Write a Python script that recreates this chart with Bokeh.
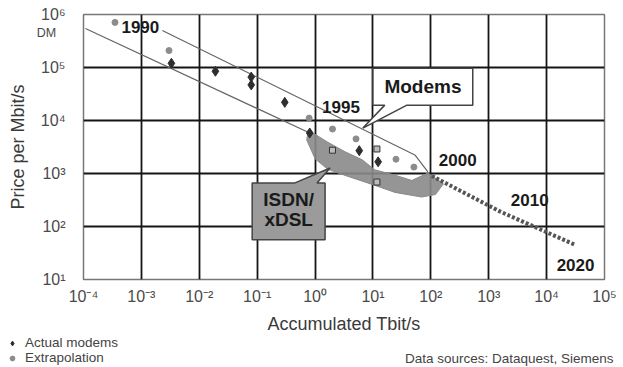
from bokeh.plotting import figure
from bokeh.layouts import column
from bokeh.models import FixedTicker, Label, Range1d, Legend, LegendItem
from bokeh.core.properties import value
from bokeh.embed import file_html
from bokeh.resources import INLINE

FONT = "Liberation Sans"

# ---------------- data ----------------
x_ticks = [1e-4, 1e-3, 1e-2, 1e-1, 1e0, 1e1, 1e2, 1e3, 1e4, 1e5]
x_tick_labels = ["10⁻⁴", "10⁻³", "10⁻²", "10⁻¹", "10⁰", "10¹", "10²", "10³", "10⁴", "10⁵"]
y_ticks = [1e1, 1e2, 1e3, 1e4, 1e5, 1e6]
y_tick_labels = ["10¹", "10²", "10³", "10⁴", "10⁵", "10⁶"]

# actual modems (Tbit/s accumulated, DM per Mbit/s)
modem_tbit = [0.0033, 0.019, 0.079, 0.079, 0.30, 0.81, 5.8, 12.3]
modem_price = [120000, 85000, 66000, 47000, 22000, 5800, 2700, 1660]

# extrapolation points
extra_tbit = [0.00035, 0.0030, 0.79, 2.0, 5.1, 25, 51]
extra_price = [710000, 209000, 11100, 6900, 4500, 1860, 1320]

# ISDN / xDSL points
isdn_tbit = [2.0, 11.7, 11.7]
isdn_price = [2750, 2900, 690]

# extrapolated trend 2000 -> 2020
trend_tbit = [104, 1550, 30400]
trend_price = [900, 193, 45.5]

# band boundaries
band_low_tbit = [0.000108, 0.81]
band_low_price = [546000, 5800]
band_up_tbit = [0.0023, 53, 89]
band_up_price = [500000, 2240, 1070]

# ISDN/xDSL area
area_tbit = [0.76, 1.66, 3.3, 6.5, 10.7, 24, 47, 89, 132,
             165, 120, 69, 24, 10.7, 3.3, 1.66, 1.0, 0.72]
area_price = [6600, 3890, 2570, 1820, 1175, 930, 740, 1020, 760,
              640, 400, 360, 440, 600, 920, 1200, 1900, 4270]

# year labels
years = ["1990", "1995", "2000", "2010", "2020"]
year_tbit = [0.00096, 2.8, 292, 5100, 31600]
year_price = [570000, 17900, 1800, 319, 19]

# callouts
modems_call_tbit = [10, 530, 530, 38.6, 6.7, 16, 10]
modems_call_price = [96600, 96600, 19500, 19500, 7200, 19500, 19500]
modems_text_pos = (73, 43400)

isdn_call_tbit = [0.082, 0.45, 1.82, 1.08, 1.49, 1.49, 0.082]
isdn_call_price = [665, 665, 1270, 665, 665, 56.5, 56.5]
isdn_text_tbit = [0.35, 0.35]
isdn_text_price = [319, 134]
isdn_text = ["ISDN/", "xDSL"]

legend_labels = ["Actual modems", "Extrapolation"]
source_note = "Data sources: Dataquest, Siemens"

# ---------------- main figure ----------------
p = figure(width=623, height=336, x_axis_type="log", y_axis_type="log",
           x_range=Range1d(1e-4, 1e5), y_range=Range1d(10, 1e6),
           output_backend="svg", toolbar_location=None,
           min_border_left=83, min_border_right=18, min_border_top=14,
           min_border_bottom=56)
p.frame_align = False
p.background_fill_color = "white"
p.border_fill_color = "white"
p.outline_line_color = "#777777"
p.outline_line_width = 1.5

xt = FixedTicker(ticks=x_ticks, minor_ticks=[])
yt = FixedTicker(ticks=y_ticks, minor_ticks=[])
p.xaxis.ticker = xt
p.yaxis.ticker = yt
p.xgrid.ticker = xt
p.ygrid.ticker = yt
for g in (p.xgrid[0], p.ygrid[0]):
    g.grid_line_color = "#151515"
    g.grid_line_width = 1.8

for ax in (p.xaxis[0], p.yaxis[0]):
    ax.axis_line_color = None
    ax.major_tick_line_color = None
    ax.minor_tick_line_color = None
    ax.major_tick_out = 0
    ax.major_tick_in = 0
    ax.minor_tick_out = 0
    ax.minor_tick_in = 0
    ax.major_label_text_font = FONT
    ax.major_label_text_font_size = "16px"
    ax.major_label_text_color = "#4a4a4a"
    ax.axis_label_text_font = FONT
    ax.axis_label_text_font_size = "18px"
    ax.axis_label_text_font_style = "normal"
    ax.axis_label_text_color = "#3a3a3a"

p.xaxis.major_label_overrides = dict(zip(x_ticks, x_tick_labels))
p.yaxis.major_label_overrides = dict(zip(y_ticks, y_tick_labels))
p.xaxis.axis_label = "Accumulated Tbit/s"
p.yaxis.axis_label = "Price per Mbit/s"
p.xaxis.major_label_standoff = 8
p.xaxis.axis_label_standoff = 6
p.yaxis.major_label_standoff = 18
p.yaxis.axis_label_standoff = 10

p.patch(area_tbit, area_price, fill_color="#8a8a8a", fill_alpha=0.9,
        line_color="#8a8a8a", line_width=1)

p.line(band_low_tbit, band_low_price, line_color="#666666", line_width=1.2)
p.line(band_up_tbit, band_up_price, line_color="#666666", line_width=1.2)

p.line(trend_tbit, trend_price, line_color="#555555", line_width=4,
       line_dash="3 2", line_cap="butt")

p.scatter(extra_tbit, extra_price, marker="circle", size=6,
          fill_color="#8c8c8c", line_color="#8c8c8c")
p.scatter(isdn_tbit, isdn_price, marker="square", size=6,
          fill_color="#bbbbbb", line_color="#333333", line_width=1)
p.scatter(modem_tbit, modem_price, marker="diamond", size=10,
          fill_color="#2e2e2e", line_color="#2e2e2e")

p.patch(modems_call_tbit, modems_call_price, fill_color="white",
        line_color="#444444", line_width=1.5)
p.patch(isdn_call_tbit, isdn_call_price, fill_color="#9b9b9b",
        line_color="#444444", line_width=1.5)

p.text(x=[modems_text_pos[0]], y=[modems_text_pos[1]], text=["Modems"],
       text_font=value(FONT), text_font_style="bold", text_font_size="19px",
       text_align="center", text_baseline="middle", text_color="#1a1a1a")
p.text(x=isdn_text_tbit, y=isdn_text_price, text=isdn_text,
       text_font=value(FONT), text_font_style="bold", text_font_size="19px",
       text_align="center", text_baseline="middle", text_color="#1a1a1a")
p.text(x=year_tbit, y=year_price, text=years,
       text_font=value(FONT), text_font_style="bold", text_font_size="17px",
       text_align="center", text_baseline="middle", text_color="#1a1a1a")

# unit note under the top tick label (lives in the narrow right panel, placed in data units)
p.add_layout(Label(x=2.3e-5, y=440000, text="DM", text_font=FONT,
                   text_font_size="12.5px", text_color="#4a4a4a",
                   text_align="center", text_baseline="middle"), "right")

# ---------------- legend / source strip ----------------
p2 = figure(width=623, height=31, x_range=Range1d(0, 623), y_range=Range1d(0, 31),
            output_backend="svg", toolbar_location=None, min_border=0,
            x_axis_location=None, y_axis_location=None)
p2.frame_align = False
p2.grid.visible = False
p2.outline_line_color = None
p2.background_fill_color = "white"
p2.border_fill_color = "white"

r_mod = p2.scatter([-50], [-50], marker="diamond", size=9,
                   fill_color="#2e2e2e", line_color="#2e2e2e")
r_ext = p2.scatter([-50], [-50], marker="circle", size=5,
                   fill_color="#8c8c8c", line_color="#8c8c8c")
leg = Legend(items=[LegendItem(label=legend_labels[0], renderers=[r_mod]),
                    LegendItem(label=legend_labels[1], renderers=[r_ext])],
             location=(6, 2), orientation="vertical", padding=0, margin=0,
             spacing=0, label_height=14, glyph_height=14, glyph_width=12,
             label_standoff=7, border_line_color=None, background_fill_alpha=0,
             label_text_font=FONT, label_text_font_size="13.5px",
             label_text_color="#444444")
p2.add_layout(leg)
p2.add_layout(Label(x=613, y=9, text=source_note, text_font=FONT,
                    text_font_size="13.5px", text_color="#444444",
                    text_align="right", text_baseline="middle"))

open("out.html", "w").write(file_html(column(p, p2), INLINE))
